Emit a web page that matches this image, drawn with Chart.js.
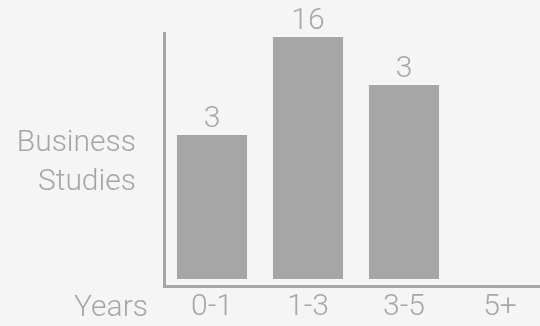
<!DOCTYPE html>
<html>
<head>
<meta charset="utf-8">
<script src="https://cdn.jsdelivr.net/npm/chart.js@4/dist/chart.umd.min.js"></script>
<style>
  html, body { margin: 0; padding: 0; background: #f5f5f5; overflow: hidden; }
  #wrap { width: 548px; height: 326px; }
</style>
</head>
<body>
<div id="wrap"><canvas id="yearsChart"></canvas></div>
<script>
// data
var years = ['0-1', '1-3', '3-5', '5+'];
var barHeights = [58.5, 98.4, 78.9, null];
var barLabels = ['3', '16', '3', ''];
var subjectLabel = ['Business', 'Studies'];
var xTitle = 'Years';

var grey = '#a6a6a6';
var textGrey = '#a6a6a6';
var font = {family: 'Roboto', size: 30, weight: 300, lineHeight: 1.3};

// numbers above bars + the "Years" caption
var barText = {
    id: 'barText',
    afterDatasetsDraw: function(chart) {
        var ctx = chart.ctx;
        var meta = chart.getDatasetMeta(0);
        ctx.save();
        ctx.fillStyle = textGrey;
        ctx.font = '300 30px Roboto';
        ctx.textAlign = 'center';
        ctx.textBaseline = 'alphabetic';
        meta.data.forEach(function(bar, i) {
            if (barHeights[i] == null) return;
            ctx.fillText(barLabels[i], bar.x, bar.y - 8);
        });
        ctx.textAlign = 'right';
        ctx.fillText(xTitle, chart.chartArea.left - 16, chart.chartArea.bottom + 30);
        ctx.restore();
    }
};

let ctx_bar = document.getElementById('yearsChart').getContext('2d');

let myBarChart = new Chart(ctx_bar, {
    type: 'bar',
    data: {
        labels: years,
        datasets: [{
            data: barHeights,
            backgroundColor: grey,
            borderWidth: 0,
            barPercentage: 0.73,
            categoryPercentage: 1
        }]
    },
    options: {
        responsive: true,
        maintainAspectRatio: false,
        animation: false,
        layout: {padding: {top: 33, right: 0, left: 0, bottom: 0}},
        plugins: {legend: {display: false}, tooltip: {enabled: false}},
        scales: {
            x: {
                grid: {display: false, drawTicks: false},
                border: {display: true, color: grey, width: 3},
                ticks: {color: textGrey, font: font, padding: 2},
                afterFit: function(s) { s.height = 40; s.paddingLeft = 0; s.paddingRight = 0; }
            },
            y: {
                min: -2.85,
                max: 100,
                grid: {display: false, drawTicks: false},
                border: {display: true, color: grey, width: 3},
                ticks: {
                    color: textGrey,
                    font: font,
                    padding: 28,
                    callback: function() { return subjectLabel; }
                },
                afterBuildTicks: function(s) { s.ticks = [{value: 47}]; },
                afterFit: function(s) { s.width = 164; s.paddingTop = 0; s.paddingBottom = 0; }
            }
        }
    },
    plugins: [barText]
});
</script>
</body>
</html>
